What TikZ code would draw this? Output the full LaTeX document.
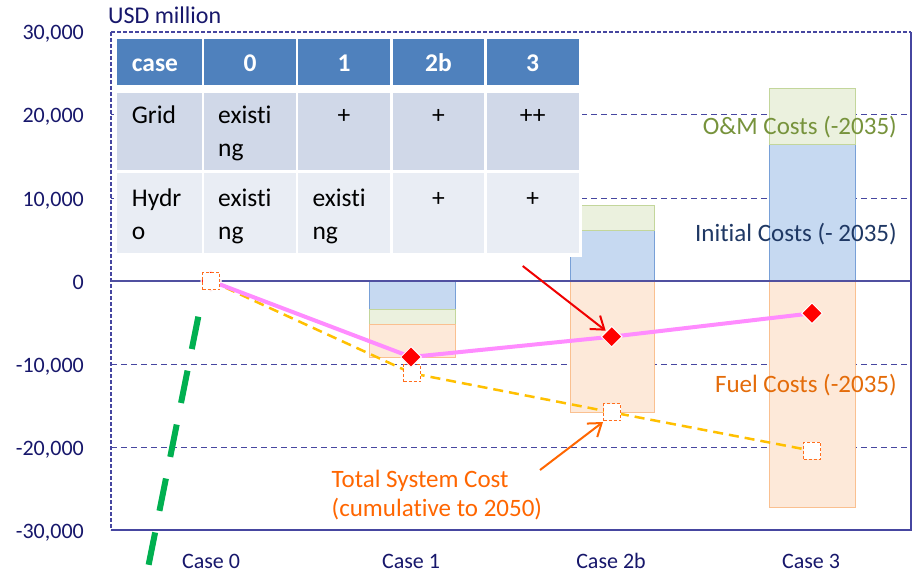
\documentclass[tikz,border=0pt]{standalone}
\usepackage{fontspec}
\setmainfont{Carlito}[Ligatures={NoCommon,NoContextual},RawFeature={-liga;-clig;-dlig}]
\usetikzlibrary{shapes.geometric,arrows.meta}
\definecolor{axnavy}{RGB}{23,23,107}
\definecolor{gridnavy}{RGB}{70,70,160}
\definecolor{zeronavy}{RGB}{80,80,160}
\definecolor{barblue}{RGB}{198,217,241}
\definecolor{barblueln}{RGB}{120,160,215}
\definecolor{bargreen}{RGB}{235,241,222}
\definecolor{bargreenln}{RGB}{195,214,155}
\definecolor{barorange}{RGB}{253,233,217}
\definecolor{barorangeln}{RGB}{250,192,144}
\definecolor{pinkln}{RGB}{255,140,255}
\definecolor{yellowln}{RGB}{255,192,0}
\definecolor{sqorange}{RGB}{255,110,30}
\definecolor{txtblue}{RGB}{31,56,100}
\definecolor{txtgreen}{RGB}{119,147,60}
\definecolor{txtfuel}{RGB}{228,108,10}
\definecolor{txttotal}{RGB}{255,102,0}
\definecolor{arrred}{RGB}{240,0,0}
\definecolor{greenln}{RGB}{0,176,80}
\definecolor{thead}{RGB}{79,129,189}
\definecolor{trowa}{RGB}{208,216,232}
\definecolor{trowb}{RGB}{233,237,244}
\begin{document}
\begin{tikzpicture}[x=1pt,y=-1pt,
  gridln/.style={draw=gridnavy,line width=1pt,dash pattern=on 6pt off 4pt},
  borderdash/.style={draw=gridnavy,line width=1.2pt,dash pattern=on 4pt off 2pt},
  bordersolid/.style={draw=gridnavy,line width=1.2pt},
  bluebar/.style={fill=barblue,draw=barblueln,line width=1pt},
  greenbar/.style={fill=bargreen,draw=bargreenln,line width=1pt},
  orangebar/.style={fill=barorange,draw=barorangeln,line width=1pt},
  axlbl/.style={anchor=base east,inner sep=0,text=axnavy,font=\fontsize{22}{26}\selectfont},
  caselbl/.style={anchor=base,inner sep=0,text=axnavy,font=\fontsize{22}{26}\selectfont},
  serieslbl/.style={anchor=base east,inner sep=0,font=\fontsize{25}{30}\selectfont},
  mkdiam/.style={diamond,fill=red,draw=white,line width=1pt,inner sep=0,minimum width=21pt,minimum height=21pt},
  mksq/.style={rectangle,fill=white,draw=sqorange,line width=1.2pt,dash pattern=on 3pt off 2pt,minimum size=17pt,inner sep=0},
  thd/.style={inner sep=0,text=white,font=\bfseries\fontsize{25.5}{30}\selectfont},
  ttx/.style={inner sep=0,text=black,font=\fontsize{25.5}{30}\selectfont},
  barrow/.style={line width=2pt,-{Straight Barb[length=12pt,width=17pt]}}
]
\useasboundingbox (0,0) rectangle (918,575);
\fill[white] (0,0) rectangle (918,575);

% gridlines
\foreach \yy in {115,198,364,447} \draw[gridln] (111,\yy) -- (911,\yy);

% bars
\draw[bluebar]   (369,281) rectangle (455,309.3);
\draw[greenbar]  (369,309.3) rectangle (455,324.3);
\draw[orangebar] (369,324.3) rectangle (455,357.7);
\draw[bluebar]   (570,281) rectangle (654,230);
\draw[greenbar]  (570,230) rectangle (654,205);
\draw[orangebar] (570,281) rectangle (654,412.7);
\draw[bluebar]   (769,281) rectangle (855,144.3);
\draw[greenbar]  (769,144.3) rectangle (855,88.3);
\draw[orangebar] (769,281) rectangle (855,507);

% axes / frame
\draw[borderdash] (111,32) -- (911,32);
\draw[borderdash] (111,32) -- (111,530);
\draw[bordersolid] (911,32) -- (911,530) -- (111,530);
\draw[draw=zeronavy,line width=1.5pt] (111,281) -- (911,281);

% data points
\coordinate (c0) at (211,281);
\coordinate (c1) at (411,357);
\coordinate (c2) at (611.7,336.7);
\coordinate (c3) at (812,313.3);
\coordinate (d0) at (211,281);
\coordinate (d1) at (412,373.3);
\coordinate (d2) at (612,412.3);
\coordinate (d3) at (812,450.7);

\draw[yellowln,line width=2.5pt,dash pattern=on 10pt off 6pt] (d0) -- (d1) -- (d2) -- (d3);
\draw[pinkln,line width=4pt,line join=round] (c0) -- (c1) -- (c2) -- (c3);

\node[mkdiam] (p0) at (c0) {};
\node[mksq] (q0) at (d0) {};
\node[mksq] (q1) at (d1) {};
\node[mksq] (q2) at (d2) {};
\node[mksq] (q3) at (d3) {};
\node[mkdiam] (p1) at (c1) {};
\node[mkdiam] (p2) at (c2) {};
\node[mkdiam] (p3) at (c3) {};

% axis labels
\node[axlbl] (y30) at (84,40) {30,000};
\node[axlbl] (y20) at (84,123) {20,000};
\node[axlbl] (y10) at (84,206) {10,000};
\node[axlbl] (y0) at (84,289) {0};
\node[axlbl] (ym10) at (84,372) {-10,000};
\node[axlbl] (ym20) at (84,455) {-20,000};
\node[axlbl] (ym30) at (84,538) {-30,000};
\node[anchor=base west,inner sep=0,text=axnavy,font=\fontsize{24}{28}\selectfont] (unit) at (108,23.5) {USD million};

\node[caselbl] (x0) at (211,568.5) {Case 0};
\node[caselbl] (x1) at (411,568.5) {Case 1};
\node[caselbl] (x2) at (611,568.5) {Case 2b};
\node[caselbl] (x3) at (811,568.5) {Case 3};

% series labels
\node[serieslbl,text=txtgreen] (lom) at (897,135) {O\&M Costs (-2035)};
\node[serieslbl,text=txtblue] (lini) at (897,241) {Initial Costs (- 2035)};
\node[serieslbl,text=txtfuel] (lfuel) at (897,392.7) {Fuel Costs (-2035)};
\node[anchor=base west,inner sep=0,text=txttotal,font=\fontsize{25}{30}\selectfont] (ltot1) at (331.5,487.7) {Total System Cost};
\node[anchor=base west,inner sep=0,text=txttotal,font=\fontsize{25}{30}\selectfont] (ltot2) at (331.5,516.5) {(cumulative to 2050)};

% table
\fill[white] (113.5,34) rectangle (581.5,256.5);
\fill[thead] (117,39) rectangle (202,85);
\fill[thead] (204.3,39) rectangle (296,85);
\fill[thead] (298,39) rectangle (390,85);
\fill[thead] (393,39) rectangle (484,85);
\fill[thead] (487,39) rectangle (578.5,85);
\fill[trowa] (117,93) rectangle (202,170);
\fill[trowa] (204.3,93) rectangle (296,170);
\fill[trowa] (298,93) rectangle (390,170);
\fill[trowa] (393,93) rectangle (484,170);
\fill[trowa] (487,93) rectangle (578.5,170);
\fill[trowb] (117,173) rectangle (202,253);
\fill[trowb] (204.3,173) rectangle (296,253);
\fill[trowb] (298,173) rectangle (390,253);
\fill[trowb] (393,173) rectangle (484,253);
\fill[trowb] (487,173) rectangle (578.5,253);

\node[thd,anchor=base west] (h0) at (131.7,71.5) {case};
\node[thd,anchor=base] (h1) at (250.2,71.5) {0};
\node[thd,anchor=base] (h2) at (344,71.5) {1};
\node[thd,anchor=base] (h3) at (438.5,71.5) {2b};
\node[thd,anchor=base] (h4) at (532.7,71.5) {3};

\node[ttx,anchor=base west] (r1a) at (131.7,124) {Grid};
\node[ttx,anchor=base west] (r1b) at (218,124) {exist\kern0pt i};
\node[ttx,anchor=base west] (r1bb) at (218,156.7) {ng};
\node[ttx,anchor=base] (r1c) at (344,124) {+};
\node[ttx,anchor=base] (r1d) at (438.5,124) {+};
\node[ttx,anchor=base] (r1e) at (532.7,124) {++};

\node[ttx,anchor=base west] (r2a) at (131.7,206.7) {Hydr};
\node[ttx,anchor=base west] (r2aa) at (131.7,239.4) {o};
\node[ttx,anchor=base west] (r2b) at (218,206.7) {exist\kern0pt i};
\node[ttx,anchor=base west] (r2bb) at (218,239.4) {ng};
\node[ttx,anchor=base west] (r2c) at (312.3,206.7) {exist\kern0pt i};
\node[ttx,anchor=base west] (r2cc) at (312.3,239.4) {ng};
\node[ttx,anchor=base] (r2d) at (438.5,206.7) {+};
\node[ttx,anchor=base] (r2e) at (532.7,206.7) {+};

% arrows
\coordinate (ra0) at (522.7,266);
\coordinate (ra1) at (605.7,330.7);
\draw[barrow,arrred] (ra0) -- (ra1);
\coordinate (oa0) at (540,470);
\coordinate (oa1) at (603,422);
\draw[barrow,txttotal] (oa0) -- (oa1);

% green dashed line
\coordinate (g0) at (198.3,316.7);
\coordinate (g1) at (145,583);
\draw[greenln,line width=6pt,dash pattern=on 33pt off 22pt] (g0) -- (g1);
\end{tikzpicture}
\end{document}
